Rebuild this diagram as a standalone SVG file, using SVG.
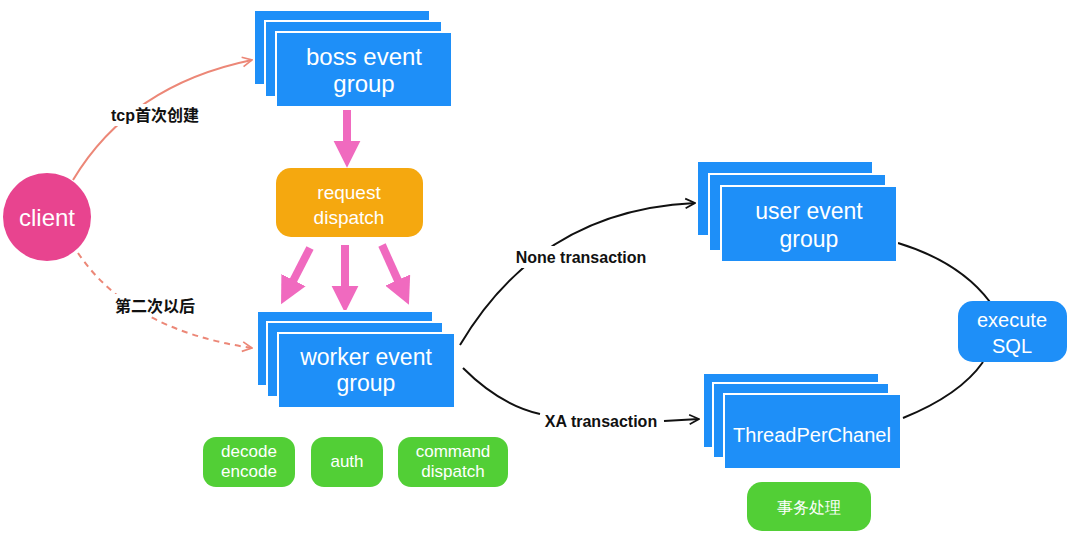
<svg xmlns="http://www.w3.org/2000/svg" width="1080" height="543" viewBox="0 0 1080 543">
<defs>
<style>
.blue{fill:#1E8FF8;stroke:#ffffff;stroke-width:2}
.wt{fill:#ffffff;font-family:"Liberation Sans",Arial,sans-serif;text-anchor:middle}
.lbl{fill:#111111;font-family:"Liberation Sans","Noto Sans CJK SC",sans-serif;font-weight:bold;font-size:16px;text-anchor:middle}
.green{fill:#52CF36}
.pink{stroke:#F06ABF;stroke-width:8;fill:none}
.salmon{stroke:#EC8777;stroke-width:2;fill:none}
.blk{stroke:#111111;stroke-width:2;fill:none}
</style>
<marker id="ph" viewBox="0 0 10 10" refX="2" refY="5" markerWidth="3.4" markerHeight="3.4" orient="auto">
<path d="M0,0 L10,5 L0,10 Z" fill="#F06ABF"/>
</marker>
<marker id="sh" viewBox="0 0 10 10" refX="9" refY="5" markerWidth="6" markerHeight="6" orient="auto">
<path d="M1,1 L9,5 L1,9" fill="none" stroke="#EC8777" stroke-width="1.4"/>
</marker>
<marker id="bh" viewBox="0 0 10 10" refX="9" refY="5" markerWidth="6" markerHeight="6" orient="auto">
<path d="M1,1 L9,5 L1,9" fill="none" stroke="#111111" stroke-width="1.4"/>
</marker>
</defs>
<rect width="1080" height="543" fill="#ffffff"/>

<g id="connectors">
<path class="salmon" d="M73,180 Q130,85 252,60" marker-end="url(#sh)"/>
<path class="salmon" d="M78,253 Q130,330 252,348" stroke-dasharray="6,5" marker-end="url(#sh)"/>
<rect x="105" y="104" width="100" height="22" fill="#ffffff"/>
<text class="lbl" x="155" y="121">tcp首次创建</text>
<rect x="110" y="294" width="92" height="22" fill="#ffffff"/>
<text class="lbl" x="155" y="312">第二次以后</text>

<path class="pink" d="M347,110 L347,146" marker-end="url(#ph)"/>
<path class="pink" d="M310,248 L291,285" marker-end="url(#ph)"/>
<path class="pink" d="M345,245 L345,291" marker-end="url(#ph)"/>
<path class="pink" d="M382,245 L400,285" marker-end="url(#ph)"/>

<path class="blk" d="M460,345 Q540,210 695,203" marker-end="url(#bh)"/>
<rect x="510" y="246" width="142" height="22" fill="#ffffff"/>
<text class="lbl" x="581" y="263">None transaction</text>
<path class="blk" d="M463,368 Q500,405 540,414"/>
<text class="lbl" x="601" y="427">XA transaction</text>
<path class="blk" d="M664,421 L699,419" marker-end="url(#bh)"/>

<path class="blk" d="M898,243 Q960,262 990,302"/>
<path class="blk" d="M903,418 Q960,395 983,362"/>
</g>

<g id="client">
<circle cx="47" cy="217" r="44" fill="#E8448F"/>
<text class="wt" x="47" y="226" font-size="24">client</text>
</g>

<g id="boss">
<rect class="blue" x="254" y="10" width="176" height="75"/>
<rect class="blue" x="265" y="21" width="177" height="76"/>
<rect class="blue" x="276" y="32" width="176" height="75"/>
<text class="wt" x="364" y="65" font-size="24">boss event</text>
<text class="wt" x="364" y="92" font-size="24">group</text>
</g>

<g id="request">
<rect x="276" y="168" width="147" height="69" rx="15" fill="#F5A80F"/>
<text class="wt" x="349" y="199" font-size="19">request</text>
<text class="wt" x="349" y="224" font-size="19">dispatch</text>
</g>

<g id="worker">
<rect class="blue" x="257" y="311" width="176" height="75"/>
<rect class="blue" x="267" y="322" width="176" height="75"/>
<rect class="blue" x="278" y="333" width="177" height="75"/>
<text class="wt" x="366" y="365" font-size="23">worker event</text>
<text class="wt" x="366" y="391" font-size="23">group</text>
</g>

<g id="decode">
<rect class="green" x="203" y="437" width="92" height="50" rx="13"/>
<text class="wt" x="249" y="457" font-size="17">decode</text>
<text class="wt" x="249" y="477" font-size="17">encode</text>
</g>
<g id="auth">
<rect class="green" x="311" y="437" width="72" height="50" rx="13"/>
<text class="wt" x="347" y="467" font-size="17">auth</text>
</g>
<g id="command">
<rect class="green" x="398" y="437" width="110" height="50" rx="13"/>
<text class="wt" x="453" y="457" font-size="17">command</text>
<text class="wt" x="453" y="477" font-size="17">dispatch</text>
</g>

<g id="user">
<rect class="blue" x="697" y="161" width="176" height="75"/>
<rect class="blue" x="709" y="174" width="177" height="77"/>
<rect class="blue" x="721" y="186" width="176" height="76"/>
<text class="wt" x="809" y="219" font-size="23">user event</text>
<text class="wt" x="809" y="247" font-size="23">group</text>
</g>

<g id="execute">
<rect x="958" y="301" width="109" height="61" rx="15" fill="#1E8FF8"/>
<text class="wt" x="1012" y="327" font-size="20">execute</text>
<text class="wt" x="1012" y="353" font-size="20">SQL</text>
</g>

<g id="thread">
<rect class="blue" x="703" y="373" width="176" height="75"/>
<rect class="blue" x="713" y="383" width="176" height="75"/>
<rect class="blue" x="724" y="394" width="177" height="75"/>
<text class="wt" x="812" y="442" font-size="20">ThreadPerChanel</text>
</g>

<g id="tx">
<rect class="green" x="747" y="482" width="124" height="49" rx="15"/>
<text class="wt" x="809" y="513" font-size="16" font-family="'Noto Sans CJK SC',sans-serif">事务处理</text>
</g>
</svg>
